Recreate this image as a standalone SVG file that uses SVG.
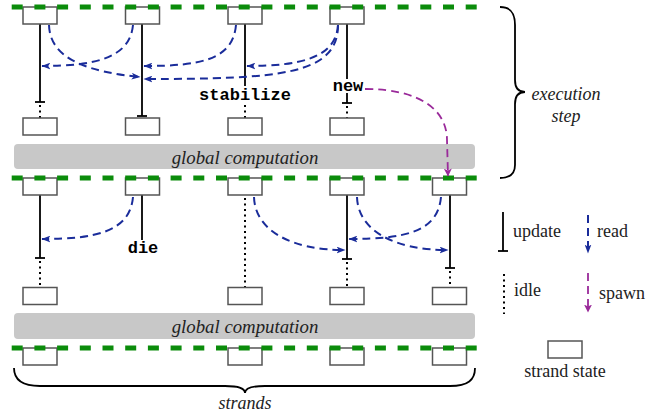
<svg xmlns="http://www.w3.org/2000/svg" width="667" height="420" viewBox="0 0 667 420">
<style>
.box{fill:#fff;stroke:#555;stroke-width:1.5}
.green{stroke:#0b8c0b;stroke-width:5;stroke-dasharray:11 11.7;fill:none}
.bar{fill:#c8c8c8}
.solid{stroke:#000;stroke-width:1.8;fill:none}
.dot{stroke:#000;stroke-width:2;stroke-dasharray:2 3.5;fill:none}
.read{stroke:#1a2c9a;stroke-width:2;stroke-dasharray:8 5;fill:none;marker-end:url(#ab)}
.spawn{stroke:#9a2a9a;stroke-width:1.8;stroke-dasharray:8 5;fill:none;marker-end:url(#ap)}
.it{font-family:"Liberation Serif",serif;font-style:italic;font-size:18px;fill:#222}
.gc{font-size:18.8px}
.rm{font-family:"Liberation Serif",serif;font-size:18px;fill:#222}
.mono{font-family:"Liberation Mono",monospace;font-weight:bold;font-size:17px;fill:#000}
.brace{stroke:#000;stroke-width:1.8;fill:none}
</style>
<defs>
<marker id="ab" markerUnits="userSpaceOnUse" viewBox="0 0 8 6" refX="7.5" refY="3" markerWidth="9" markerHeight="7" orient="auto"><path d="M0,0 L8,3 L0,6 L2,3 z" fill="#1a2c9a"/></marker>
<marker id="ap" markerUnits="userSpaceOnUse" viewBox="0 0 8 8" refX="7.5" refY="4" markerWidth="8" markerHeight="8" orient="auto"><path d="M0,0 L8,4 L0,8 L2,4 z" fill="#9a2a9a"/></marker>
</defs>

<!-- global computation bars -->
<g id="gc1"><rect class="bar" x="14" y="144" width="461" height="25" rx="4"/><text class="it gc" x="245" y="164" text-anchor="middle">global computation</text></g>
<g id="gc2"><rect class="bar" x="14" y="313" width="461" height="26" rx="4"/><text class="it gc" x="245" y="333" text-anchor="middle">global computation</text></g>

<!-- strand lifelines -->
<g id="lifelines">
<line class="solid" x1="40" y1="24" x2="40" y2="102"/><line class="solid" x1="35" y1="102" x2="45" y2="102"/><line class="dot" x1="40" y1="105" x2="40" y2="118"/>
<line class="solid" x1="142" y1="24" x2="142" y2="116"/><line class="solid" x1="137" y1="116" x2="147" y2="116"/>
<line class="solid" x1="245" y1="24" x2="245" y2="86"/><line class="dot" x1="245" y1="105" x2="245" y2="118"/>
<line class="solid" x1="347" y1="24" x2="347" y2="79"/><line class="solid" x1="347" y1="93" x2="347" y2="103"/><line class="solid" x1="342" y1="103" x2="352" y2="103"/><line class="dot" x1="347" y1="106" x2="347" y2="118"/>
<line class="solid" x1="40" y1="195" x2="40" y2="258"/><line class="solid" x1="35" y1="258" x2="45" y2="258"/><line class="dot" x1="40" y1="261" x2="40" y2="287"/>
<line class="solid" x1="142" y1="195" x2="142" y2="240"/>
<line class="dot" x1="245" y1="198" x2="245" y2="287"/>
<line class="solid" x1="347" y1="195" x2="347" y2="259"/><line class="solid" x1="342" y1="259" x2="352" y2="259"/><line class="dot" x1="347" y1="262" x2="347" y2="287"/>
<line class="solid" x1="450" y1="195" x2="450" y2="268"/><line class="solid" x1="445" y1="268" x2="455" y2="268"/><line class="dot" x1="450" y1="271" x2="450" y2="287"/>
</g>

<g id="labels">
<text class="mono" x="245" y="100" text-anchor="middle">stabilize</text>
<text class="mono" x="348" y="91" text-anchor="middle">new</text>
<text class="mono" x="143" y="253" text-anchor="middle">die</text>
</g>

<!-- boxes -->
<g id="row1top"><rect class="box" x="23" y="7" width="34" height="17"/><rect class="box" x="125.5" y="7" width="34" height="17"/><rect class="box" x="228" y="7" width="34" height="17"/><rect class="box" x="330" y="7" width="34" height="17"/></g>
<g id="row1bot"><rect class="box" x="23" y="118" width="34" height="17"/><rect class="box" x="125.5" y="118" width="34" height="17"/><rect class="box" x="228" y="118" width="34" height="17"/><rect class="box" x="330" y="118" width="34" height="17"/></g>
<g id="row2top"><rect class="box" x="23" y="178" width="34" height="17"/><rect class="box" x="125.5" y="178" width="34" height="17"/><rect class="box" x="228" y="178" width="34" height="17"/><rect class="box" x="330" y="178" width="34" height="17"/><rect class="box" x="432.5" y="178" width="34" height="17"/></g>
<g id="row2bot"><rect class="box" x="23" y="287.5" width="34" height="17"/><rect class="box" x="228" y="287.5" width="34" height="17"/><rect class="box" x="330" y="287.5" width="34" height="17"/><rect class="box" x="432.5" y="287.5" width="34" height="17"/></g>
<g id="row3"><rect class="box" x="23" y="348" width="34" height="17"/><rect class="box" x="228" y="348" width="34" height="17"/><rect class="box" x="330" y="348" width="34" height="17"/><rect class="box" x="432.5" y="348" width="34" height="17"/></g>

<!-- barriers -->
<g id="barriers">
<line class="green" x1="11.7" y1="7" x2="478" y2="7"/>
<line class="green" x1="11.7" y1="178" x2="478" y2="178"/>
<line class="green" x1="11.7" y1="348" x2="478" y2="348"/>
</g>

<!-- connectors -->
<g id="connectors">
<path class="read" d="M49,25 C50,60 90,72 140,77"/>
<path class="read" d="M133,25 C130,58 95,66 42,66"/>
<path class="read" d="M236,25 C233,60 200,66 144,66"/>
<path class="read" d="M338,25 C336,58 300,66 247,66"/>
<path class="read" d="M338,25 C338,75 280,79 144,79"/>
<path class="read" d="M133,197 C130,232 95,239 42,239"/>
<path class="read" d="M254,197 C255,230 290,250 345,250"/>
<path class="read" d="M357,197 C358,230 393,250 448,250"/>
<path class="read" d="M441,197 C438,232 405,239 349,239"/>
<path class="spawn" d="M365,89 C420,89 447,110 447,140 L448,176"/>
</g>

<!-- braces -->
<g id="exec-brace">
<path class="brace" d="M500,7 C510,7 515,12 515,25 L515,80 C515,88 519,92 525,92 C519,92 515,96 515,104 L515,165 C515,173 510,178 500,178"/>
<text class="it" x="566" y="100" text-anchor="middle">execution</text>
<text class="it" x="566" y="122" text-anchor="middle">step</text>
</g>
<g id="strands-brace">
<path class="brace" d="M14,368 C14,380 22,386 40,386 L225,386 C238,386 245,388 245,393 C245,388 252,386 265,386 L450,386 C468,386 475,380 475,368"/>
<text class="it" x="245" y="409" text-anchor="middle">strands</text>
</g>

<!-- legend -->
<g id="legend-update"><line class="solid" x1="503" y1="212" x2="503" y2="251"/><line class="solid" x1="498" y1="251" x2="508" y2="251"/><text class="rm" x="513" y="237">update</text></g>
<g id="legend-read"><path class="read" d="M588,215 L588,253"/><text class="rm" x="597" y="237">read</text></g>
<g id="legend-idle"><line class="dot" x1="504" y1="274" x2="504" y2="314"/><text class="rm" x="514" y="296">idle</text></g>
<g id="legend-spawn"><path class="spawn" d="M588,273 L588,312"/><text class="rm" x="599" y="299">spawn</text></g>
<g id="legend-state"><rect class="box" x="548" y="341" width="34" height="17"/><text class="rm" x="565" y="377" text-anchor="middle">strand state</text></g>
</svg>
